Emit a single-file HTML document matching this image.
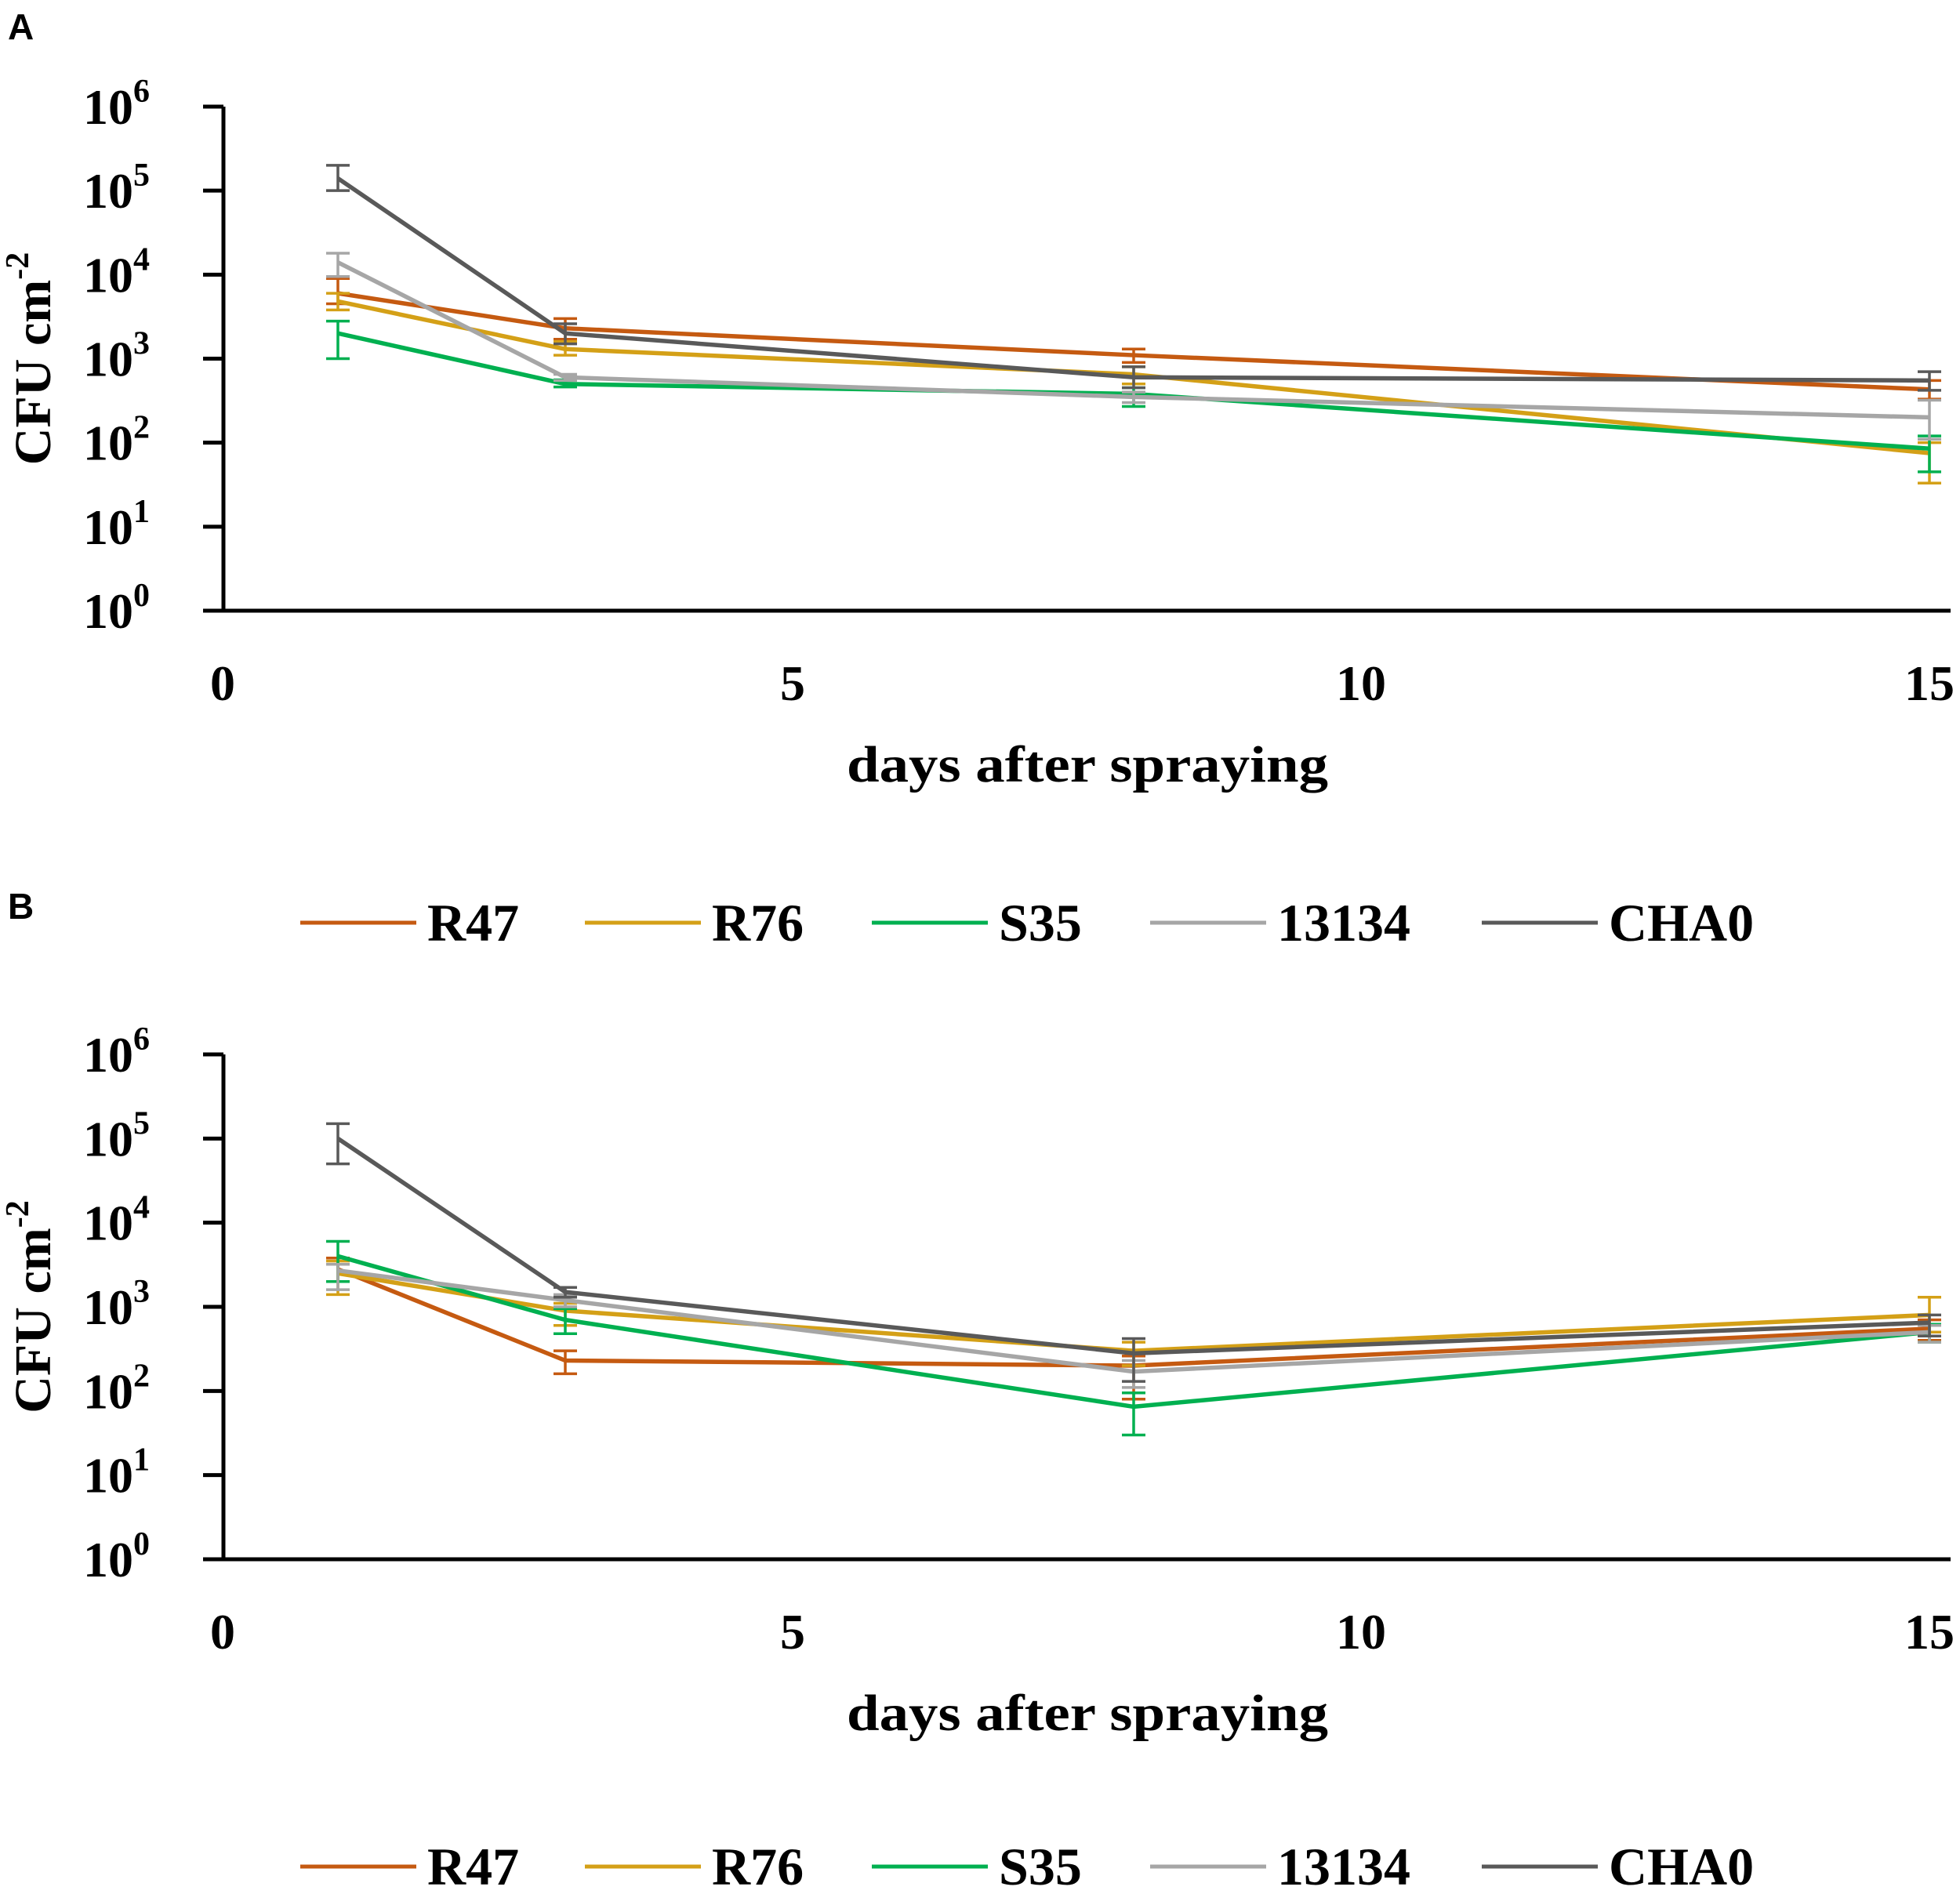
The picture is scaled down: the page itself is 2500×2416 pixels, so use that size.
<!DOCTYPE html>
<html><head><meta charset="utf-8">
<style>
html,body{margin:0;padding:0;background:#fff;}
svg{display:block;}
text{font-family:"Liberation Serif",serif;font-weight:bold;fill:#000;}
.pl{font-family:"Liberation Sans",sans-serif;}
</style></head>
<body>
<svg id="fig" width="2500" height="2416" viewBox="0 0 2500 2416" xmlns="http://www.w3.org/2000/svg"></svg>
<script>
const days = [1, 3, 8, 15];
const seriesNames = ["R47", "R76", "S35", "13134", "CHA0"];
const seriesColors = ["#C55A11", "#D4A017", "#00B050", "#A6A6A6", "#595959"];
// Panel A means (CFU cm^-2)
const aR47 = [6000, 2300, 1100, 430];
const aR76 = [4800, 1300, 650, 75];
const aS35 = [2000, 500, 380, 85];
const a13134 = [14000, 600, 350, 200];
const aCHA0 = [140000, 2000, 600, 550];
// Panel A error (upper, lower)
const aR47Hi = [9000, 3000, 1300, 550];
const aR47Lo = [4500, 1700, 900, 330];
const aR76Hi = [6000, 1600, 800, 100];
const aR76Lo = [3800, 1100, 500, 33];
const aS35Hi = [2800, 560, 450, 120];
const aS35Lo = [1000, 460, 270, 45];
const a13134Hi = [18000, 650, 400, 320];
const a13134Lo = [9500, 550, 300, 110];
const aCHA0Hi = [200000, 2600, 800, 700];
const aCHA0Lo = [100000, 1500, 450, 420];
// Panel B means
const bR47 = [2800, 230, 200, 550];
const bR76 = [2500, 900, 300, 800];
const bS35 = [4000, 700, 65, 500];
const b13134 = [2700, 1200, 170, 500];
const bCHA0 = [100000, 1500, 280, 650];
const bR47Hi = [3800, 300, 260, 700];
const bR47Lo = [2000, 160, 80, 400];
const bR76Hi = [3500, 1100, 380, 1300];
const bR76Lo = [1400, 600, 200, 500];
const bS35Hi = [6000, 950, 95, 620];
const bS35Lo = [2000, 480, 30, 380];
const b13134Hi = [3200, 1400, 230, 600];
const b13134Lo = [1600, 1000, 110, 380];
const bCHA0Hi = [150000, 1700, 420, 800];
const bCHA0Lo = [50000, 1300, 130, 450];
const yTickExp = [0, 1, 2, 3, 4, 5, 6];
const xTicks = [0, 5, 10, 15];

const NS = "http://www.w3.org/2000/svg";
const svg = document.getElementById("fig");
function el(tag, attrs, parent) {
  const e = document.createElementNS(NS, tag);
  for (const k in attrs) e.setAttribute(k, attrs[k]);
  (parent || svg).appendChild(e);
  return e;
}

function panel(label, labelY, top, bottom, means, his, los, prefix) {
  const g = el("g", {});
  
  
  const x0 = 285, xEnd = 2488, dayW = 145;
  const xs = d => 286 + d * dayW;
  const dec = (bottom - top) / 6;
  const ys = v => bottom - Math.log10(v) * dec;

  const pl = el("text", {x: 10, y: labelY, "font-size": 46, class: "pl"}, g);
  pl.textContent = label;
  
  

  const ya = el("line", {x1: x0, y1: top, x2: x0, y2: bottom + 2, stroke: "#000", "stroke-width": 5}, g);
  
  
  const xa = el("line", {x1: x0 - 26, y1: bottom, x2: xEnd, y2: bottom, stroke: "#000", "stroke-width": 5}, g);
  
  

  yTickExp.forEach(e => {
    const y = bottom - e * dec;
    const t = el("line", {x1: x0 - 26, y1: y, x2: x0, y2: y, stroke: "#000", "stroke-width": 5}, g);
    
    
    const tx = el("text", {x: 106, y: y + 22, "font-size": 64}, g);
    
    
    tx.appendChild(document.createTextNode("10"));
    const sp = el("tspan", {dy: -28, "font-size": 42}, tx);
    sp.textContent = e;
  });
  xTicks.forEach(d => {
    const t = el("text", {x: xs(d) - (d === 0 ? 2 : 0), y: bottom + 114, "font-size": 64, "text-anchor": "middle"}, g);
    t.textContent = d;
    
    
  });
  const xt = el("text", {x: 1387, y: bottom + 218, "font-size": 66, "text-anchor": "middle", textLength: 614, lengthAdjust: "spacingAndGlyphs"}, g);
  xt.textContent = "days after spraying";
  
  
  const cy = (top + bottom) / 2;
  const yt = el("text", {x: 0, y: 0, "font-size": 66, "text-anchor": "middle", transform: `translate(64 ${cy}) rotate(-90)`}, g);
  
  
  yt.appendChild(document.createTextNode("CFU cm"));
  const ys2 = el("tspan", {dy: -28, "font-size": 42}, yt);
  ys2.textContent = "-2";

  means.forEach((vals, si) => {
    const c = seriesColors[si];
    const pts = vals.map((v, i) => xs(days[i]) + "," + ys(v)).join(" ");
    const line = el("polyline", {points: pts, fill: "none", stroke: c, "stroke-width": 5.5, "stroke-linejoin": "round"}, g);
    
    
    vals.forEach((v, i) => {
      const x = xs(days[i]), yh = ys(his[si][i]), yl = ys(los[si][i]);
      const eb = el("path", {d: `M${x},${yh}V${yl}M${x-15},${yh}H${x+15}M${x-15},${yl}H${x+15}`, stroke: c, "stroke-width": 3.5, fill: "none"}, g);
      
      
    });
  });
}

function legend(y, prefix) {
  const g = el("g", {});
  
  
  const lx = [383, 746, 1112, 1467, 1890];
  seriesNames.forEach((n, i) => {
    const e = el("g", {}, g);
    
    
    el("line", {x1: lx[i], y1: y, x2: lx[i] + 148, y2: y, stroke: seriesColors[i], "stroke-width": 5}, e);
    const t = el("text", {x: lx[i] + 162, y: y + 23, "font-size": 68}, e);
    t.textContent = n;
  });
}

panel("A", 50, 136, 779, [aR47, aR76, aS35, a13134, aCHA0], [aR47Hi, aR76Hi, aS35Hi, a13134Hi, aCHA0Hi], [aR47Lo, aR76Lo, aS35Lo, a13134Lo, aCHA0Lo], "panel-a");
legend(1177, "panel-a");
panel("B", 1172, 1345, 1989, [bR47, bR76, bS35, b13134, bCHA0], [bR47Hi, bR76Hi, bS35Hi, b13134Hi, bCHA0Hi], [bR47Lo, bR76Lo, bS35Lo, b13134Lo, bCHA0Lo], "panel-b");
legend(2381, "panel-b");
</script>
</body></html>
